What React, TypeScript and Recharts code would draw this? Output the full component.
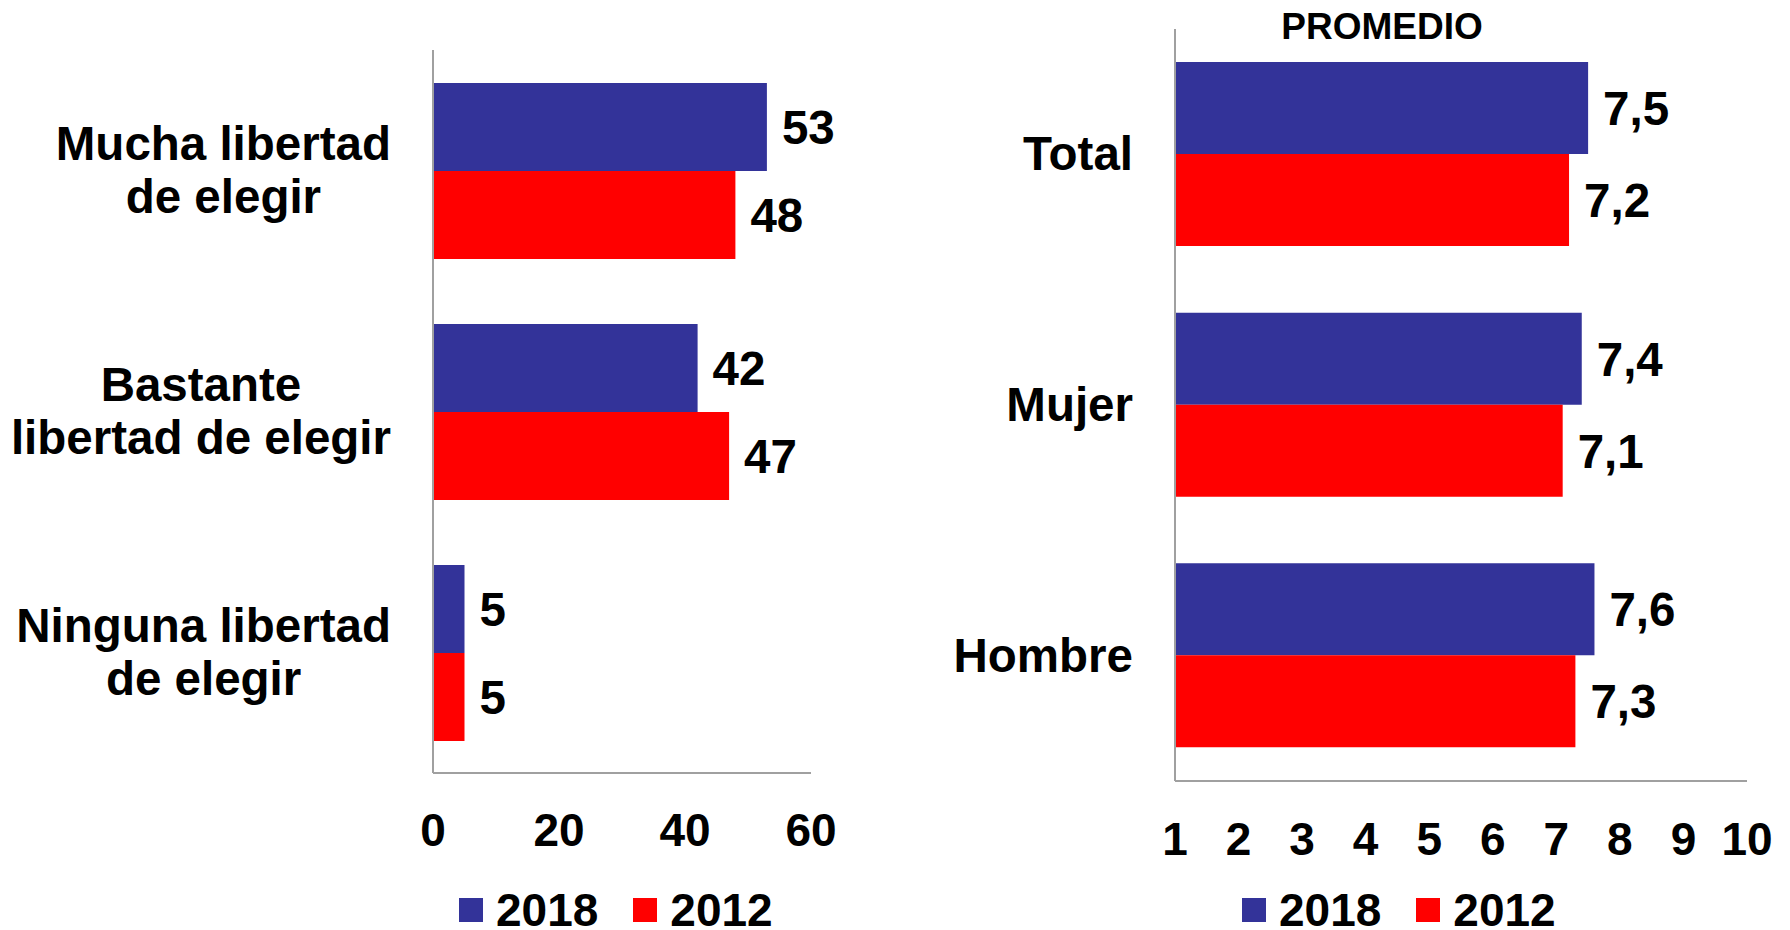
import React from 'react';
import { BarChart, Bar, XAxis, YAxis, LabelList, Legend } from 'recharts';

// ---- Data ----
const libertadCategories = ['Mucha libertad\nde elegir', 'Bastante\nlibertad de elegir', 'Ninguna libertad\nde elegir'];
const libertad2018 = [53, 42, 5];
const libertad2012 = [48, 47, 5];
const libertadTicks = [0, 20, 40, 60];

const promedioCategories = ['Total', 'Mujer', 'Hombre'];
const promedio2018 = [7.5, 7.4, 7.6];
const promedio2012 = [7.2, 7.1, 7.3];
const promedioTicks = [1, 2, 3, 4, 5, 6, 7, 8, 9, 10];

const seriesNames = ['2018', '2012'];
const seriesColors = ['#333399', '#FF0000'];
const promedioTitle = 'PROMEDIO';

const libertadData = libertadCategories.map((name, i) => ({ name, s2018: libertad2018[i], s2012: libertad2012[i] }));
const promedioData = promedioCategories.map((name, i) => ({ name, s2018: promedio2018[i], s2012: promedio2012[i] }));

// ---- Styles ----
const FONT = '"Liberation Sans", Arial, sans-serif';
const CAT_SIZE = 47.5;
const TICK_SIZE = 46;
const AXIS_COLOR = '#a0a0a0';

let ctx: CanvasRenderingContext2D | null = null;
function measure(text: string, size: number): number {
  if (!ctx) ctx = document.createElement('canvas').getContext('2d');
  if (!ctx) return text.length * size * 0.55;
  ctx.font = `bold ${size}px ${FONT}`;
  return ctx.measureText(text).width;
}

const CategoryTick = (props: any) => {
  const { x, y, payload } = props;
  const lines = String(payload.value).split('\n');
  const maxW = Math.max(...lines.map((l) => measure(l, CAT_SIZE)));
  const right = x - 42;
  const n = lines.length;
  const lh = 53.4;
  return (
    <g>
      {lines.map((l, i) => (
        <text
          key={i}
          x={n > 1 ? right - maxW / 2 : right}
          y={y + (i - (n - 1) / 2) * lh + 16}
          textAnchor={n > 1 ? 'middle' : 'end'}
          fontFamily={FONT}
          fontWeight="bold"
          fontSize={CAT_SIZE}
          fill="#000"
        >
          {l}
        </text>
      ))}
    </g>
  );
};

const makeNumTick = (dy: number) => (props: any) => {
  const { x, y, payload } = props;
  return (
    <text x={x} y={y + dy + 16} textAnchor="middle" fontFamily={FONT} fontWeight="bold" fontSize={TICK_SIZE} fill="#000">
      {payload.value}
    </text>
  );
};

const LegendContent = () => (
  <div style={{ display: 'flex', alignItems: 'center', height: 36 }}>
    {seriesNames.map((s, i) => (
      <div key={s} style={{ display: 'flex', alignItems: 'center', marginRight: i === 0 ? 35 : 0 }}>
        <div style={{ width: 24, height: 24, background: seriesColors[i], marginRight: 13 }} />
        <span style={{ fontFamily: FONT, fontWeight: 'bold', fontSize: TICK_SIZE, lineHeight: '36px', color: '#000' }}>{s}</span>
      </div>
    ))}
  </div>
);

const labelStyle = { fontFamily: FONT, fontWeight: 'bold' as const, fontSize: CAT_SIZE, fill: '#000' };
const commaFmt = (v: any) => Number(v).toFixed(1).replace('.', ',');

export default function App() {
  return (
    <div style={{ position: 'absolute', left: 0, top: 0, width: 1790, height: 930, background: '#fff', overflow: 'hidden' }}>
      <div style={{ position: 'absolute', left: 0, top: 0 }}>
        <BarChart
          width={900}
          height={930}
          data={libertadData}
          layout="vertical"
          margin={{ top: 50, right: 89, bottom: 57, left: 0 }}
          barCategoryGap={33}
          barGap={0}
        >
          <XAxis
            type="number"
            domain={[0, 60]}
            ticks={libertadTicks}
            height={100}
            axisLine={{ stroke: AXIS_COLOR, strokeWidth: 2 }}
            tickLine={false}
            tickSize={0}
            tickMargin={0}
            tick={makeNumTick(57)}
            interval={0}
          />
          <YAxis
            type="category"
            dataKey="name"
            width={433}
            axisLine={{ stroke: AXIS_COLOR, strokeWidth: 2 }}
            tickLine={false}
            tickSize={0}
            tickMargin={0}
            tick={<CategoryTick />}
            interval={0}
          />
          <Legend
            layout="horizontal"
            verticalAlign="middle"
            align="center"
            wrapperStyle={{ left: 459, top: 892, width: 'auto' }}
            content={() => <LegendContent />}
          />
          <Bar dataKey="s2018" name={seriesNames[0]} fill={seriesColors[0]} isAnimationActive={false}>
            <LabelList dataKey="s2018" position="right" offset={15} style={labelStyle} />
          </Bar>
          <Bar dataKey="s2012" name={seriesNames[1]} fill={seriesColors[1]} isAnimationActive={false}>
            <LabelList dataKey="s2012" position="right" offset={15} style={labelStyle} />
          </Bar>
        </BarChart>
      </div>
      <div style={{ position: 'absolute', left: 900, top: 0 }}>
        <BarChart
          width={890}
          height={930}
          data={promedioData}
          layout="vertical"
          margin={{ top: 29, right: 43, bottom: 49, left: 0 }}
          barCategoryGap={33}
          barGap={0}
        >
          <XAxis
            type="number"
            domain={[1, 10]}
            ticks={promedioTicks}
            height={100}
            axisLine={{ stroke: AXIS_COLOR, strokeWidth: 2 }}
            tickLine={false}
            tickSize={0}
            tickMargin={0}
            tick={makeNumTick(58)}
            interval={0}
            allowDataOverflow
          />
          <YAxis
            type="category"
            dataKey="name"
            width={275}
            axisLine={{ stroke: AXIS_COLOR, strokeWidth: 2 }}
            tickLine={false}
            tickSize={0}
            tickMargin={0}
            tick={<CategoryTick />}
            interval={0}
          />
          <Legend
            layout="horizontal"
            verticalAlign="middle"
            align="center"
            wrapperStyle={{ left: 342, top: 892, width: 'auto' }}
            content={() => <LegendContent />}
          />
          <Bar dataKey="s2018" name={seriesNames[0]} fill={seriesColors[0]} isAnimationActive={false}>
            <LabelList dataKey="s2018" position="right" offset={15} style={labelStyle} formatter={commaFmt} />
          </Bar>
          <Bar dataKey="s2012" name={seriesNames[1]} fill={seriesColors[1]} isAnimationActive={false}>
            <LabelList dataKey="s2012" position="right" offset={15} style={labelStyle} formatter={commaFmt} />
          </Bar>
        </BarChart>
      </div>
      <div
        style={{
          position: 'absolute',
          left: 1232,
          width: 300,
          top: 8,
          textAlign: 'center',
          fontFamily: FONT,
          fontWeight: 'bold',
          fontSize: 37,
          lineHeight: '37px',
          color: '#000',
        }}
      >
        {promedioTitle}
      </div>
    </div>
  );
}
